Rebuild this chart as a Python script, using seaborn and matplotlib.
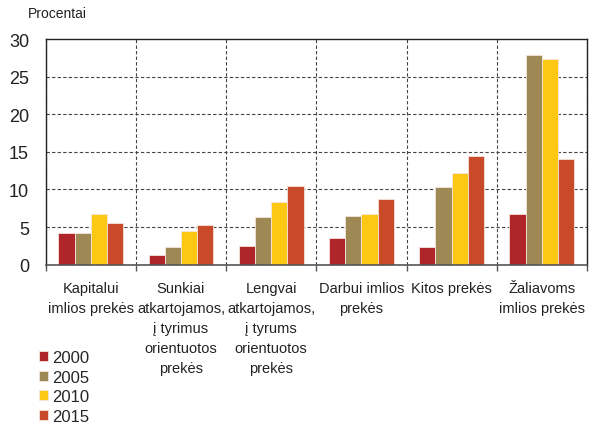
import numpy as np
import pandas as pd
import matplotlib
matplotlib.use('Agg')
import matplotlib.pyplot as plt
import seaborn as sns

sns.set_theme(style='white')
plt.rcParams['font.family'] = ['Liberation Sans', 'DejaVu Sans']

categories = [
    'Kapitalui\nimlios prekės',
    'Sunkiai\natkartojamos,\nį tyrimus\norientuotos\nprekės',
    'Lengvai\natkartojamos,\nį tyrums\norientuotos\nprekės',
    'Darbui imlios\nprekės',
    'Kitos prekės',
    'Žaliavoms\nimlios prekės',
]
years = ['2000', '2005', '2010', '2015']
values_2000 = [4.2, 1.3, 2.5, 3.5, 2.4, 6.7]
values_2005 = [4.2, 2.4, 6.3, 6.4, 10.3, 27.9]
values_2010 = [6.7, 4.5, 8.3, 6.7, 12.2, 27.3]
values_2015 = [5.6, 5.3, 10.5, 8.7, 14.5, 14.1]
colors = ['#B0252A', '#9E8853', '#FCC813', '#C84A28']

series = [values_2000, values_2005, values_2010, values_2015]
df = pd.DataFrame([
    {'Category': cat, 'Year': year, 'Value': vals[i]}
    for year, vals in zip(years, series)
    for i, cat in enumerate(categories)
])

fig = plt.figure(figsize=(5.93, 4.27), dpi=100)
ax = fig.add_axes([0.077, 0.378, 0.913, 0.528])

sns.barplot(data=df, x='Category', y='Value', hue='Year', palette=colors,
            saturation=1, width=0.72, edgecolor='#f4e4dc', linewidth=0.6,
            ax=ax, legend=True)

ax.set_xlim(-0.5, len(categories) - 0.5)
ax.set_ylim(0, 30)
ax.set_yticks(range(0, 31, 5))
ax.set_xlabel('')
ax.set_ylabel('')

ax.set_xticks(np.arange(-0.5, len(categories)), minor=True)
ax.tick_params(axis='x', which='major', length=0, pad=12, labelsize=10.5,
               colors='#222222')
ax.tick_params(axis='x', which='minor', length=4, direction='out',
               bottom=True, color='#555555', width=1)
ax.tick_params(axis='y', length=0, labelsize=13, pad=12, colors='#222222')
for lab in ax.get_xticklabels():
    lab.set_linespacing(1.55)
    lab.set_verticalalignment('top')

ax.grid(False)
ax.grid(axis='x', which='minor', linestyle=(0, (3, 2)), color='#444444', linewidth=0.8)
for y in range(5, 30, 5):
    ax.axhline(y, linestyle=(0, (3, 2)), color='#444444', linewidth=0.8, zorder=0)
ax.set_axisbelow(True)

for side in ['top', 'right', 'left']:
    ax.spines[side].set_color('#222222')
    ax.spines[side].set_linewidth(1)
ax.spines['bottom'].set_color('#555555')
ax.spines['bottom'].set_linewidth(1.2)

handles, labels = ax.get_legend_handles_labels()
ax.get_legend().remove()
fig.legend(handles, labels, loc='upper left', bbox_to_anchor=(0.055, 0.193),
           frameon=False, fontsize=12, handlelength=0.55, handleheight=0.55,
           handletextpad=0.2, labelspacing=0.27, borderaxespad=0)

fig.text(0.047, 0.967, 'Procentai', fontsize=10, color='#222222', va='center')

fig.savefig('out.png', dpi=100)
